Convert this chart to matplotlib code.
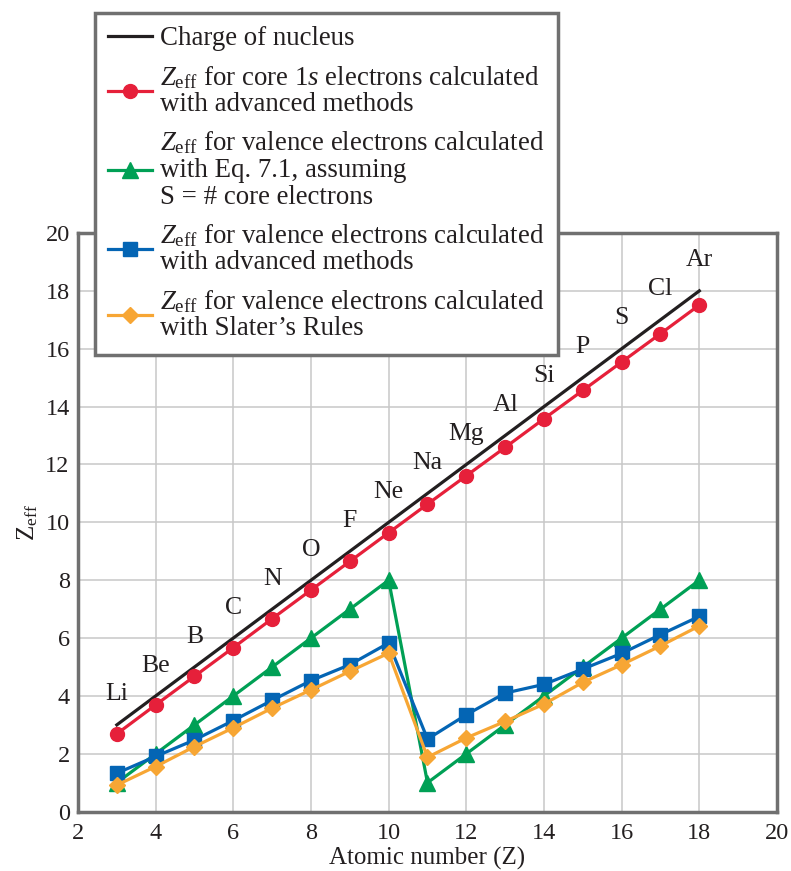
import matplotlib
matplotlib.use("Agg")
import matplotlib.pyplot as plt

plt.rcParams["font.family"] = ["Liberation Serif", "DejaVu Serif"]
plt.rcParams["mathtext.fontset"] = "custom"
plt.rcParams["mathtext.rm"] = "Liberation Serif"
plt.rcParams["mathtext.it"] = "Liberation Serif:italic"

# data
atomic_number = [3, 4, 5, 6, 7, 8, 9, 10, 11, 12, 13, 14, 15, 16, 17, 18]
elements = ["Li", "Be", "B", "C", "N", "O", "F", "Ne",
            "Na", "Mg", "Al", "Si", "P", "S", "Cl", "Ar"]
nucleus_charge = [3, 4, 5, 6, 7, 8, 9, 10, 11, 12, 13, 14, 15, 16, 17, 18]
core_1s_adv = [2.69, 3.69, 4.68, 5.67, 6.67, 7.66, 8.65, 9.64,
               10.63, 11.61, 12.59, 13.58, 14.56, 15.54, 16.52, 17.51]
valence_eq71 = [1, 2, 3, 4, 5, 6, 7, 8, 1, 2, 3, 4, 5, 6, 7, 8]
valence_adv = [1.33, 1.91, 2.48, 3.15, 3.85, 4.53, 5.08, 5.83,
               2.51, 3.35, 4.10, 4.40, 4.93, 5.47, 6.12, 6.75]
valence_slater = [0.92, 1.56, 2.25, 2.90, 3.58, 4.21, 4.85, 5.48,
                  1.88, 2.55, 3.12, 3.72, 4.47, 5.08, 5.73, 6.42]

label_text = [
    "Charge of nucleus",
    "$Z_{\\rm eff}$ for core 1$s$ electrons calculated\nwith advanced methods",
    "$Z_{\\rm eff}$ for valence electrons calculated\nwith Eq. 7.1, assuming\nS = # core electrons",
    "$Z_{\\rm eff}$ for valence electrons calculated\nwith advanced methods",
    "$Z_{\\rm eff}$ for valence electrons calculated\nwith Slater\u2019s Rules",
]

text_col = "#231f20"
fig = plt.figure(figsize=(7.91, 8.71), dpi=100)
ax = fig.add_axes([0.0986, 0.0681, 0.8837, 0.6644])

lw = 2.3
h0, = ax.plot(atomic_number, nucleus_charge, color=text_col, lw=lw, zorder=3)
h1, = ax.plot(atomic_number, core_1s_adv, color="#e6203a", lw=lw,
              marker="o", ms=10, zorder=4)
h2, = ax.plot(atomic_number, valence_eq71, color="#00a055", lw=lw,
              marker="^", ms=11, zorder=4)
h3, = ax.plot(atomic_number, valence_adv, color="#0465b4", lw=lw,
              marker="s", ms=9.5, zorder=5)
h4, = ax.plot(atomic_number, valence_slater, color="#f7a634", lw=lw,
              marker="D", ms=8, zorder=6)

for z, name in zip(atomic_number, elements):
    ax.text(z, z + 1.05, name, ha="center", va="center",
            fontsize=18.5, color=text_col)

ax.set_xlim(2, 20)
ax.set_ylim(0, 20)
ax.set_xticks(range(2, 21, 2))
ax.set_yticks(range(0, 21, 2))
ax.tick_params(length=0, labelsize=17.5, labelcolor=text_col, pad=6)
ax.tick_params(axis="x", pad=8)
ax.grid(True, color="#c8c8c8", lw=1.1)
ax.set_axisbelow(True)
for sp in ax.spines.values():
    sp.set_color("#707070")
    sp.set_linewidth(2.5)

ax.set_xlabel("Atomic number (Z)", fontsize=18, color=text_col, labelpad=2)
ax.set_ylabel("Z$_{\\rm eff}$", fontsize=18, color=text_col, labelpad=4)

leg = fig.legend([h0, h1, h2, h3, h4], label_text,
                 loc="upper left", bbox_to_anchor=(95 / 791, 1 - 13 / 871),
                 borderaxespad=0, fontsize=19.4, handlelength=1.6,
                 handletextpad=0.3, labelspacing=0.46, borderpad=0.5,
                 fancybox=False, framealpha=1, labelcolor=text_col)
leg.get_frame().set_edgecolor("#707070")
leg.get_frame().set_linewidth(2.5)
for t in leg.get_texts():
    t.set_linespacing(1.08)

fig.savefig("out.png", dpi=100)
